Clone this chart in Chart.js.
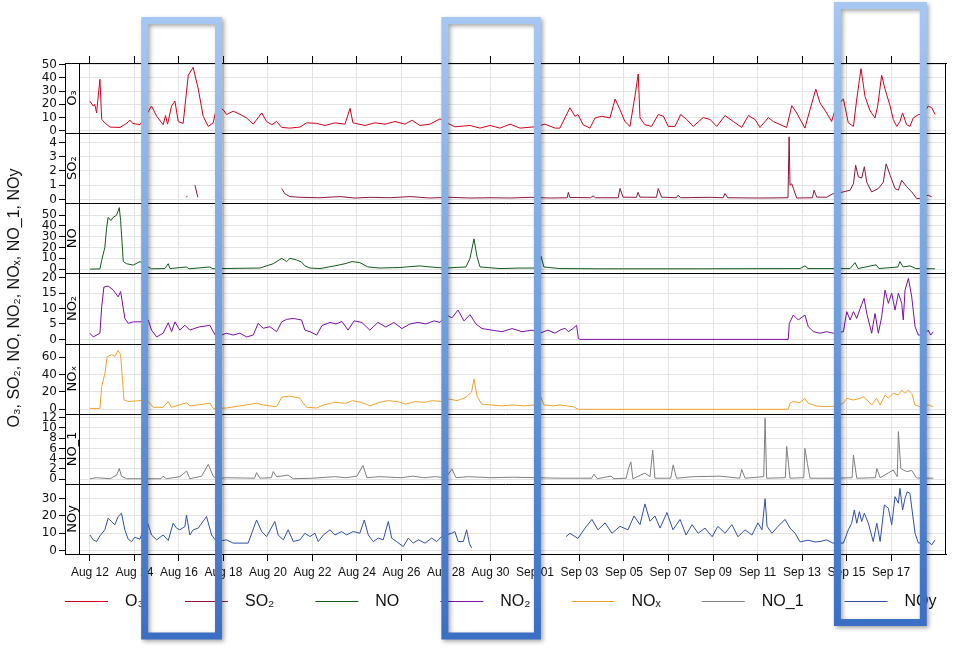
<!DOCTYPE html>
<html>
<head>
<meta charset="utf-8">
<title>O3, SO2, NO, NO2, NOx, NO_1, NOy</title>
<script src="https://cdn.jsdelivr.net/npm/chart.js@4.4.1/dist/chart.umd.min.js"></script>
<style>
  html, body { margin: 0; padding: 0; background: #fff; }
</style>
</head>
<body>
<canvas id="myChart" width="960" height="649"></canvas>
<script>
'use strict';

// x values are days after Aug 12 00:00
var tickDays = [0, 2, 4, 6, 8, 10, 12, 14, 16, 18, 20, 22, 24, 26, 28, 30, 32, 34, 36];
var tickLabels = ['Aug 12', 'Aug 14', 'Aug 16', 'Aug 18', 'Aug 20', 'Aug 22', 'Aug 24', 'Aug 26', 'Aug 28',
	'Aug 30', 'Sep 01', 'Sep 03', 'Sep 05', 'Sep 07', 'Sep 09', 'Sep 11', 'Sep 13', 'Sep 15', 'Sep 17'];

var seriesNames = ['O₃', 'SO₂', 'NO', 'NO₂', 'NOₓ', 'NO_1', 'NOy'];
var seriesColors = ['#d0021b', '#8e1538', '#14591c', '#7b0fa3', '#f0a22e', '#7f7f7f', '#2f4fa8'];

var o3Days = [0,0.15,0.22,0.30,0.45,0.53,0.67,0.90,1.35,1.65,1.80,1.93,2.25,2.47,2.77,3.00,3.29,3.40,3.49,3.67,
	3.82,3.97,4.19,4.42,4.64,4.87,5.09,5.32,5.54,5.69,5.99,6.14,6.44,6.74,7.04,7.34,7.72,7.94,8.17,8.39,
	8.62,8.99,9.44,9.74,10.19,10.56,11.01,11.46,11.69,11.82,12.36,12.81,13.26,13.71,14.16,14.47,14.83,15.28,15.73,16.04,
	16.40,17.08,17.53,17.98,18.43,18.88,19.33,20.00,20.45,20.90,21.12,21.57,21.80,21.93,22.16,22.47,22.70,23.00,23.37,23.60,
	23.82,24.04,24.27,24.49,24.64,24.72,24.94,25.24,25.54,25.77,25.99,26.29,26.55,26.82,27.11,27.56,27.87,28.17,28.54,28.91,
	29.29,29.59,29.89,30.11,30.49,30.71,31.31,31.54,31.76,32.13,32.36,32.62,32.81,33.11,33.33,33.53,33.86,34.08,34.31,34.46,
	34.65,34.83,35.06,35.28,35.40,35.58,35.73,35.96,36.10,36.26,36.40,36.52,36.70,36.85,37.00,37.23,37.45,37.67,37.83,37.98];
var o3Vals = [22.5,18.7,20,13.5,39,8.7,6,2.8,2.5,5.6,8,5.5,4.6,10,18.7,11,4.6,11.5,5,18.7,
	22.5,7,5.6,42,48,31.5,11,3.3,6,17.4,16,12.3,14.8,12.5,9.7,5,13.5,7,4.6,7,
	2.5,2,2.8,6,5.6,4,6,5,17,6,4,6,5,7,5,8,4,5,9,6,
	3,4,2,4,2,5,2,3,5,2,2,17.4,11,12.3,4.6,2,9.7,11,9.7,24,
	16,7,3.3,26,43,9.7,4.6,3.3,12.3,11,3.3,3.3,12.3,8.5,3.3,10,8.5,3.3,11.5,7,
	2.5,11.5,8.5,2.5,10,7,2.5,19,13.5,2,16,31.5,21,13.5,7,18.7,24,6,3.3,24,
	47,26,15,9.7,18.7,42,31.5,18.7,8.5,3.3,7,13.5,4.6,3.3,9.7,12.3,12.5,18.7,17.4,12.3];

var so2Days = [4.33,4.38,4.50,4.72,4.81,4.85,6.5,8.62,8.76,8.99,9.44,10.34,11.24,11.91,12.58,13.48,14.38,15.28,16.18,17.08,
	17.98,18.88,19.78,20.67,21.12,21.45,21.50,21.57,22.50,22.61,22.72,23.74,23.82,23.96,24.56,24.63,24.72,25.46,25.54,25.69,
	26.35,26.43,26.55,27.87,28.46,28.54,28.66,30.11,31.37,31.42,31.46,31.54,31.76,32.47,32.54,32.66,33.11,33.39,33.86,34.16,
	34.31,34.41,34.53,34.68,34.80,34.91,35.13,35.43,35.65,35.78,35.96,36.18,36.33,36.48,36.70,36.93,37.15,37.30,37.67,37.83];
var so2Vals = [0.15,0.25,null,1.0,0.4,0.15,null,0.77,0.4,0.2,0.15,0.12,0.2,0.1,0.15,0.12,0.2,0.1,0.15,0.1,
	0.12,0.1,0.15,0.1,0.11,0.12,0.5,0.14,0.12,0.25,0.12,0.12,0.77,0.16,0.15,0.5,0.16,0.15,0.77,0.16,
	0.12,0.3,0.12,0.15,0.12,0.42,0.12,0.1,0.12,4.4,1.0,1.1,0.1,0.12,0.65,0.16,0.16,0.4,0.53,0.65,
	1.1,2.4,1.6,1.5,2.3,1.2,0.53,0.77,1.2,2.5,1.7,0.77,0.65,1.35,0.9,0.53,0.07,0.07,0.3,0.18];

var noDays = [0,0.45,0.53,0.67,0.75,0.82,0.94,1.05,1.20,1.32,1.38,1.50,1.65,1.95,2.25,2.62,2.77,3.37,3.52,3.60,
	4.35,4.45,5.39,5.53,5.84,7.64,8.24,8.62,8.84,8.99,9.29,9.51,9.66,9.89,10.34,11.01,11.46,11.78,12.13,12.49,
	13.03,13.93,14.83,15.28,15.96,16.90,17.08,17.26,17.39,17.53,18.43,19.33,20.13,20.27,20.40,21.12,22.92,27.42,31.91,32.13,
	32.27,34.16,34.38,34.52,35.33,35.46,36.31,36.40,36.54,36.85,37.12,37.98];
var noVals = [0,0.2,8,20,38,48,45,48,50,57,45,7,5,3.7,7,2,0.3,0.5,5,0.5,
	2,0.3,2,0.3,0.5,1,5,10,7,10,8.5,6.5,3,1,0.5,3,5,7,6,2,
	1,1.5,3,2,1,2,10,28,12,2,0.5,1,1,12,2,0.5,0.3,0.3,0.5,3,
	0.5,0.5,6,0.5,4,0.5,2,7,2,3,0.5,0.3];

var no2Days = [0,0.15,0.45,0.53,0.63,0.82,1.05,1.27,1.38,1.44,1.57,1.72,1.95,2.25,2.62,2.77,3.00,3.29,3.52,3.67,
	3.82,4.04,4.27,4.49,4.72,4.94,5.17,5.39,5.54,5.69,6.14,6.44,6.74,7.04,7.34,7.56,7.79,8.09,8.39,8.62,
	8.84,9.14,9.51,9.66,9.89,10.19,10.43,10.79,11.06,11.33,11.60,11.87,12.22,12.58,12.94,13.30,13.66,14.02,14.38,14.74,
	15.10,15.46,15.73,16.00,16.27,16.54,16.81,17.08,17.35,17.62,18.07,18.52,18.97,19.42,19.87,20.22,20.58,20.90,21.12,21.35,
	21.50,21.72,21.87,21.95,22.02,31.38,31.43,31.61,31.83,32.13,32.28,32.51,32.81,33.11,33.41,33.86,34.01,34.16,34.31,34.46,
	34.61,34.79,34.91,35.13,35.28,35.43,35.58,35.73,35.88,36.03,36.18,36.33,36.48,36.55,36.63,36.78,36.93,37.08,37.23,37.45,
	37.67,37.78,37.90];
var no2Vals = [2,0.8,2,10.6,17,17.3,16,13.8,15.5,12.8,6.8,5.2,5.7,5.7,6.3,3,0.8,2,5.4,2.5,
	5.7,3,4.6,3,3.6,4.1,4.3,4.6,2.5,0.8,2,1.4,2,0.8,1.4,5.2,3.6,4.1,2.5,5.7,
	6.5,6.8,6.3,3,2.5,1.4,4.5,5.5,5,5.8,3,6,5.5,3,5.5,4,5.5,3.5,5,5.5,
	5,6,5.5,8,7,9.5,6,8,5,3.5,3,2.5,3.5,2.5,3,2,3,2,3,3.6,
	2.5,3.6,4.6,0.3,0,0,5.2,7.9,6.3,7.9,4.1,2.5,2,2.5,2,2.5,9,6.3,9,6.8,
	10,13.3,8.4,2,8.4,2,7.3,16,11.7,15,9.5,15,11.7,6.3,16,19.8,13.8,4.1,1.4,1.4,
	3,1.4,2.5];

var noxDays = [0,0.45,0.53,0.67,0.78,0.98,1.12,1.27,1.38,1.53,1.72,2.25,2.62,2.85,3.29,3.52,3.67,4.35,4.49,5.39,
	5.54,6.14,7.49,7.79,8.39,8.62,8.99,9.44,9.59,9.74,10.19,10.50,11.00,11.50,11.80,12.20,12.60,13.00,13.40,13.80,
	14.20,14.60,15.00,15.40,15.80,16.10,16.50,16.90,17.15,17.26,17.40,17.60,18.00,18.50,19.00,19.50,20.00,20.27,20.40,20.80,
	21.12,21.72,21.95,31.38,31.46,31.61,31.91,32.13,32.28,32.66,33.11,33.56,33.86,34.01,34.31,34.61,34.79,35.13,35.35,35.51,
	35.73,35.88,36.10,36.33,36.48,36.63,36.78,36.93,37.08,37.30,37.67,37.90];
var noxVals = [1,1,26,41,61,63,61,68,63,11,9,10,9,2.3,2.3,9,2.3,7.6,3.8,7,
	1,1.5,7,5,3,14,15.3,12.7,7,2.3,1.5,5,8,7,10,8,4,8,10,9,
	6,9,8,10,9,12,10,14,20,35,15,6,5,4,5,4,5,14,5,4,
	5,3,0,0,7,9,7.6,12.7,7,3.8,3,3.8,7,12.7,10.7,12.7,14.5,5,12.7,5,
	16.5,12.7,18.5,16.5,22,18.5,22,18.5,5,3,5,3];

var no1Days = [0,0.30,0.90,1.20,1.32,1.42,1.65,3.20,3.29,3.44,4.04,4.35,4.49,5.02,5.32,5.54,5.69,6.14,7.40,7.49,
	7.64,8.15,8.24,8.39,8.91,9.14,10.00,11.00,11.50,12.00,12.27,12.45,13.00,14.00,14.50,15.00,15.50,16.00,16.27,16.45,
	17.00,18.00,19.00,20.00,21.12,22.55,22.65,22.80,23.42,23.55,24.10,24.20,24.31,24.40,24.94,25.17,25.29,25.39,26.10,26.21,
	26.36,27.11,28.31,29.20,29.29,29.44,30.28,30.34,30.41,31.25,31.31,31.46,32.08,32.13,32.24,32.36,33.41,34.25,34.31,34.46,
	35.30,35.36,35.51,36.10,36.28,36.33,36.44,36.55,36.70,36.93,37.15,37.90];
var no1Vals = [0.1,0.3,0.1,0.8,2.1,0.6,0.1,0.1,0.6,0.1,0.5,1.6,0.1,0.6,2.9,0.6,0.1,0.3,0.2,1.3,
	0.2,0.3,1.5,0.5,0.8,0.1,0.2,0.5,0.3,0.6,2.7,0.3,0.5,0.3,0.6,0.3,0.5,0.3,2.0,0.3,
	0.5,0.3,0.4,0.3,0.2,0.2,1.0,0.1,0.6,0.1,0.2,2.1,3.4,0.1,1.2,0.5,5.7,0.2,0.2,2.8,
	0.2,0.5,0.6,0.2,1.9,0.2,0.5,11.9,0.2,0.3,6.4,0.2,0.3,6.0,3.1,0.2,0.2,0.3,4.7,0.2,
	0.3,2.1,0.3,1.8,0.5,9.3,2.1,1.8,1.5,1.7,0.25,0.2];

var noyDays = [0,0.15,0.30,0.45,0.67,0.82,0.97,1.12,1.27,1.42,1.57,1.72,1.87,2.02,2.25,2.55,2.77,3.00,3.29,3.52,
	3.74,3.89,4.04,4.27,4.34,4.49,4.64,4.87,5.24,5.47,5.69,6.14,6.44,7.11,7.49,7.72,7.94,8.31,8.46,8.69,
	8.91,9.14,9.44,9.66,9.89,10.11,10.26,10.49,10.79,11.01,11.31,11.54,11.83,12.13,12.33,12.51,12.73,12.96,13.18,13.41,
	13.56,13.78,14.08,14.31,14.53,14.76,15.06,15.36,15.58,15.81,16.00,16.26,16.40,16.55,16.78,16.93,17.05,17.15,19.00,21.39,
	21.57,21.93,22.25,22.56,22.83,23.15,23.46,23.82,24.18,24.45,24.72,24.94,25.17,25.39,25.62,25.93,26.20,26.52,26.79,27.06,
	27.33,27.64,27.96,28.22,28.54,28.85,29.12,29.44,29.75,30.02,30.20,30.34,30.43,30.65,30.92,31.24,31.46,31.69,31.91,32.27,
	32.58,32.81,33.11,33.39,33.86,34.08,34.23,34.35,34.46,34.58,34.68,34.80,34.98,35.20,35.36,35.51,35.70,35.88,36.03,36.18,
	36.33,36.40,36.52,36.63,36.73,36.85,37.08,37.23,37.67,37.83,37.98];
var noyVals = [9,6.2,5.2,8.5,12,18.7,16.8,14.9,19.7,21.6,12,6.6,5.2,7.7,6.6,17.7,9,6.2,9,5.8,
	15.8,13,12,13.9,20.6,9,12,13,19.7,9,5.2,6.2,4.3,4.3,17.7,11,8.1,16.8,9,6.2,
	12,5.2,6.2,10,8.1,10,5.2,9,12,9,11,9,11,10,17.7,9,5.2,7.2,6.2,16.8,
	7.2,5.2,2.3,7.2,4.3,6.2,4.3,7.2,5.2,8.1,9,10,11,5.2,5.2,12,4.3,1.4,null,8,
	10,7,13,18,12,16,10,14,12,20,15,27,17,20,13,22,12,18,9,15,
	10,13,8,14,10,15,8,12,9,16,12,30,14,10,14,18,13,10,5,6,
	5,5.2,6.2,4.3,4.3,12,15.8,23.5,15.8,22.5,16.8,21.6,15.8,5.2,15.8,5.2,26.4,24.5,14.9,31.2,
	27.4,36,23.5,30.3,34,33,10,4.3,5.2,3.3,6.2];

var seriesDays = [o3Days, so2Days, noDays, no2Days, noxDays, no1Days, noyDays];
var seriesVals = [o3Vals, so2Vals, noVals, no2Vals, noxVals, no1Vals, noyVals];

// one panel per series, top to bottom
var panelTicks = [[0, 10, 20, 30, 40, 50], [0, 1, 2, 3, 4], [0, 10, 20, 30, 40, 50], [0, 5, 10, 15, 20],
	[0, 20, 40, 60], [0, 2, 4, 6, 8, 10, 12], [0, 10, 20, 30]];
var panelMin = [-1.8, -0.27, -4, -1.36, -5.1, -0.9, -2];
var panelMax = [51.3, 4.66, 61, 21.4, 75.9, 12.78, 38.6];

// periods marked with the blue frames (days)
var highlightStart = [2.46, 15.95, 33.59];
var highlightEnd = [5.78, 20.11, 37.45];

var yTitle = 'O₃, SO₂, NO, NO₂, NOₓ, NO_1, NOy';
var sansFont = '"Liberation Sans", Arial, sans-serif';
var panelIds = seriesNames.map(function(n, i) { return 'y' + i; });

drawChart();

function drawChart() {
	var datasets = seriesNames.map(function(name, i) {
		return {
			label: name,
			data: seriesDays[i].map(function(d, k) { return { x: d, y: seriesVals[i][k] }; }),
			yAxisID: panelIds[i],
			borderColor: seriesColors[i],
			borderWidth: 1,
			pointRadius: 0,
			fill: false,
			tension: 0
		};
	});

	var scales = {
		x: {
			type: 'linear', position: 'bottom', min: -0.49, max: 38.47,
			afterBuildTicks: function(s) { s.ticks = tickDays.map(function(v) { return { value: v }; }); },
			afterFit: function(s) { s.height = 95; },
			ticks: {
				autoSkip: false, maxRotation: 0, padding: 4, color: '#111',
				font: { family: sansFont, size: 12 },
				callback: function(v) { return tickLabels[tickDays.indexOf(v)]; }
			},
			grid: { color: '#e4e4e4', tickColor: '#000', tickLength: 7 },
			border: { color: '#000' }
		},
		xTop: {
			type: 'linear', position: 'top', min: -0.49, max: 38.47,
			afterBuildTicks: function(s) { s.ticks = tickDays.map(function(v) { return { value: v }; }); },
			afterFit: function(s) { s.height = 63; },
			ticks: { display: false },
			grid: { drawOnChartArea: false, tickColor: '#000', tickLength: 7 },
			border: { color: '#000' }
		}
	};
	// left boxes are laid out last-defined first, so add the bottom panel first
	panelIds.slice().reverse().forEach(function(id) {
		var i = panelIds.indexOf(id);
		scales[id] = {
			type: 'linear', position: 'left', stack: 'panels', stackWeight: 1,
			min: panelMin[i], max: panelMax[i],
			afterBuildTicks: function(s) { s.ticks = panelTicks[i].map(function(v) { return { value: v }; }); },
			afterFit: function(s) { s.width = 79; },
			ticks: { autoSkip: false, padding: 2, color: '#111', font: { family: '"DejaVu Sans"', size: 12 } },
			grid: { color: '#e4e4e4', tickColor: '#000', tickLength: 20 },
			border: { color: '#000' }
		};
	});

	// strip with panel names, frame and separators
	var panelFrame = {
		id: 'panelFrame',
		afterDatasetsDraw: function(chart) {
			var ctx = chart.ctx, area = chart.chartArea, left = 65;
			ctx.save();
			ctx.fillStyle = '#fff';
			ctx.fillRect(left + 0.5, area.top, area.left - left - 0.5, area.bottom - area.top);
			ctx.strokeStyle = '#000';
			ctx.lineWidth = 1;
			panelIds.forEach(function(id, i) {
				var s = chart.scales[id];
				if (s.top > area.top + 1) {
					var yy = Math.round(s.top) + 0.5;
					ctx.beginPath(); ctx.moveTo(left, yy); ctx.lineTo(area.right, yy); ctx.stroke();
				}
				ctx.save();
				ctx.translate((left + area.left) / 2 + 0.5, (s.top + s.bottom) / 2);
				ctx.rotate(-Math.PI / 2);
				ctx.fillStyle = '#000';
				ctx.font = '13px "DejaVu Sans"';
				ctx.textAlign = 'center';
				ctx.textBaseline = 'middle';
				ctx.fillText(seriesNames[i], 0, 0);
				ctx.restore();
			});
			ctx.beginPath();
			ctx.moveTo(Math.round(area.left) + 0.5, area.top); ctx.lineTo(Math.round(area.left) + 0.5, area.bottom);
			ctx.stroke();
			ctx.strokeRect(left + 0.5, Math.round(area.top) + 0.5, Math.round(area.right) - left - 1, Math.round(area.bottom - area.top));
			ctx.restore();
		},
		afterDraw: function(chart) {
			var ctx = chart.ctx;
			ctx.save();
			// outer axis title
			ctx.translate(15, 298);
			ctx.rotate(-Math.PI / 2);
			ctx.fillStyle = '#111';
			ctx.font = '16px ' + sansFont;
			ctx.textAlign = 'center';
			ctx.textBaseline = 'middle';
			ctx.fillText(yTitle, 0, 0);
			ctx.restore();

			// legend
			ctx.save();
			ctx.font = '16px ' + sansFont;
			ctx.textBaseline = 'middle';
			var lx = 65, ly = 601.5;
			chart.data.datasets.forEach(function(ds) {
				ctx.strokeStyle = ds.borderColor;
				ctx.lineWidth = 1;
				ctx.beginPath(); ctx.moveTo(lx, ly); ctx.lineTo(lx + 43, ly); ctx.stroke();
				ctx.fillStyle = '#111';
				ctx.fillText(ds.label, lx + 60, ly);
				lx += 60 + ctx.measureText(ds.label).width + 41;
			});
			ctx.restore();

			// blue frames
			var xs = chart.scales.x;
			var frameTop = [20.5, 20.5, 5.5];
			var frameBottom = [636, 636, 622.5];
			ctx.save();
			highlightStart.forEach(function(d0, i) {
				var x0 = xs.getPixelForValue(d0), x1 = xs.getPixelForValue(highlightEnd[i]);
				var g = ctx.createLinearGradient(0, frameTop[i], 0, frameBottom[i]);
				g.addColorStop(0, '#a6c7f1');
				g.addColorStop(0.5, '#6f9edd');
				g.addColorStop(1, '#3a6fc3');
				ctx.shadowColor = 'rgba(0,0,0,0.35)';
				ctx.shadowBlur = 4;
				ctx.shadowOffsetX = 2;
				ctx.shadowOffsetY = 2;
				ctx.strokeStyle = g;
				ctx.lineWidth = 7;
				ctx.strokeRect(x0, frameTop[i], x1 - x0, frameBottom[i] - frameTop[i]);
			});
			ctx.restore();
		}
	};

	new Chart(document.getElementById('myChart'), {
		type: 'line',
		data: { datasets: datasets },
		options: {
			responsive: false,
			animation: false,
			events: [],
			layout: { padding: { left: 0, right: 14, top: 0, bottom: 0 } },
			plugins: { legend: { display: false }, title: { display: false }, tooltip: { enabled: false } },
			scales: scales
		},
		plugins: [panelFrame]
	});
}
</script>
</body>
</html>
